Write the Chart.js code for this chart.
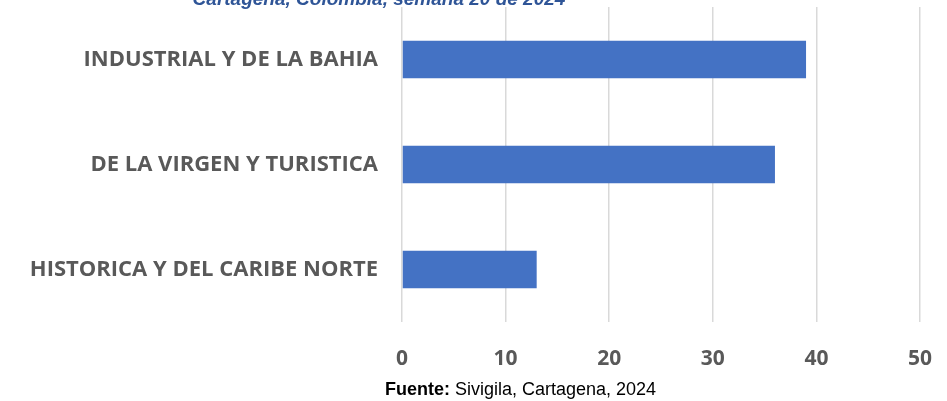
<!DOCTYPE html>
<html>
<head>
<meta charset="utf-8">
<script src="https://cdn.jsdelivr.net/npm/chart.js@4"></script>
<style>
  html, body { margin: 0; padding: 0; background: #fff; }
  #wrap { width: 947px; height: 401px; position: relative; }
</style>
</head>
<body>
<div id="wrap"><canvas id="barChart"></canvas></div>
<script>
const categories = ['INDUSTRIAL Y DE LA BAHIA', 'DE LA VIRGEN Y TURISTICA', 'HISTORICA Y DEL CARIBE NORTE'];
const cases = [39, 36, 13];
const xTicks = [0, 10, 20, 30, 40, 50];
const titleText = 'Cartagena, Colombia, semana 20 de 2024';
const sourceBold = 'Fuente:';
const sourceText = ' Sivigila, Cartagena, 2024';

// title (cut off at the top) and source line
const textPlugin = {
    id: 'extraText',
    afterDraw(chart) {
        const ctx = chart.ctx;
        ctx.save();
        ctx.fillStyle = '#2F5597';
        ctx.font = 'italic bold 19px "Liberation Sans", Arial, sans-serif';
        ctx.textAlign = 'center';
        ctx.textBaseline = 'alphabetic';
        ctx.fillText(titleText, 379, 5);

        ctx.fillStyle = '#000';
        ctx.textAlign = 'left';
        ctx.font = 'bold 18px "Liberation Sans Narrow", "Arial Narrow", sans-serif';
        const x0 = 385;
        ctx.fillText(sourceBold, x0, 395);
        const w = ctx.measureText(sourceBold).width;
        ctx.font = '18px "Liberation Sans Narrow", "Arial Narrow", sans-serif';
        ctx.fillText(sourceText, x0 + w, 395);
        ctx.restore();
    }
};

const barChart = new Chart(document.getElementById('barChart').getContext('2d'), {
    type: 'bar',
    data: {
        labels: categories,
        datasets: [{
            label: 'Casos',
            data: cases,
            backgroundColor: '#4472C4',
            borderWidth: 0,
            categoryPercentage: 1,
            barPercentage: 0.355
        }]
    },
    options: {
        indexAxis: 'y',
        responsive: true,
        maintainAspectRatio: false,
        animation: false,
        layout: { padding: { top: 7, right: 27, bottom: 0, left: 0 } },
        plugins: {
            legend: { display: false },
            tooltip: { enabled: false }
        },
        scales: {
            x: {
                min: 0,
                max: 50,
                afterBuildTicks: scale => { scale.ticks = xTicks.map(v => ({ value: v })); },
                afterFit: scale => { scale.height = 79; },
                grid: { color: '#D9D9D9', lineWidth: 1.5, drawTicks: true, tickLength: 24, tickColor: 'rgba(0,0,0,0)' },
                border: { display: false },
                ticks: {
                    padding: 0,
                    color: '#595959',
                    font: { family: '"Open Sans", sans-serif', size: 21, weight: 'bold' }
                }
            },
            y: {
                afterFit: scale => { scale.width = 402; },
                grid: { display: false, drawTicks: true, tickLength: 31 },
                border: { display: false },
                ticks: {
                    padding: -7,
                    color: '#595959',
                    font: { family: '"Open Sans", sans-serif', size: 22, weight: 'bold' }
                }
            }
        }
    },
    plugins: [textPlugin]
});
</script>
</body>
</html>
